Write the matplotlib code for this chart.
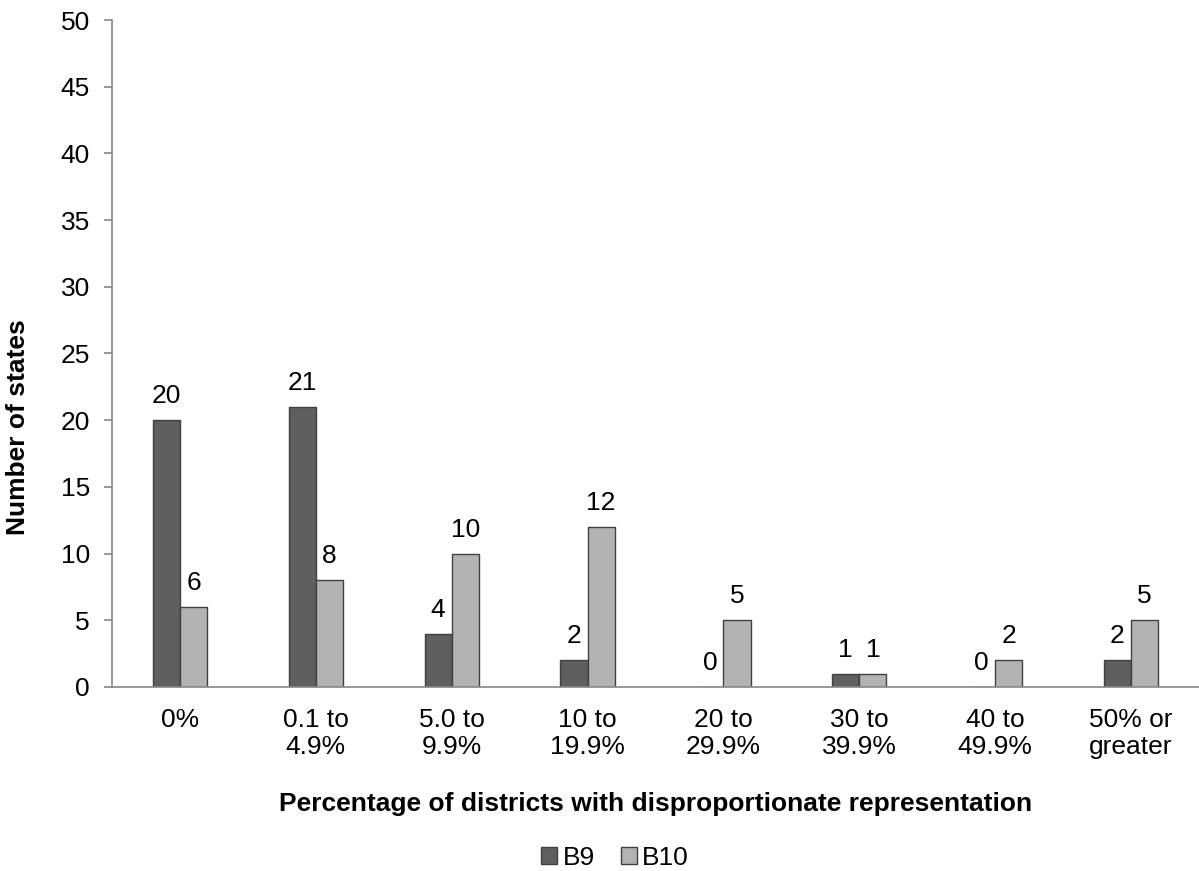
import matplotlib
matplotlib.use("Agg")
import matplotlib.pyplot as plt
import numpy as np

categories = ["0%", "0.1 to\n4.9%", "5.0 to\n9.9%", "10 to\n19.9%", "20 to\n29.9%",
              "30 to\n39.9%", "40 to\n49.9%", "50% or\ngreater"]
b9 = [20, 21, 4, 2, 0, 1, 0, 2]
b10 = [6, 8, 10, 12, 5, 1, 2, 5]
yticks = list(range(0, 51, 5))

plt.rcParams['font.family'] = ['Liberation Sans', 'DejaVu Sans']
FS = 19

fig = plt.figure(figsize=(11.99, 8.71), dpi=100)
ax = fig.add_axes([0.0934, 0.2113, 0.9066, 0.7657])

x = np.arange(len(categories))
w = 0.2
c9, c10 = "#5f5f5f", "#b3b3b3"
bars9 = ax.bar(x - w/2, b9, w, color=c9, edgecolor="#404040", linewidth=1, label="B9")
bars10 = ax.bar(x + w/2, b10, w, color=c10, edgecolor="#404040", linewidth=1, label="B10")

for bars, vals in ((bars9, b9), (bars10, b10)):
    for b, v in zip(bars, vals):
        ax.annotate(str(v), (b.get_x() + b.get_width()/2, v), xytext=(0, 8.5),
                    textcoords="offset points", ha="center", va="bottom", fontsize=FS)

ax.set_xlim(-0.5, len(categories) - 0.5)
ax.set_ylim(0, 50)
ax.set_yticks(yticks)
ax.set_xticks(x)
ax.set_xticklabels(categories, fontsize=FS, linespacing=1.15)
ax.tick_params(axis='y', labelsize=FS, length=6, color="#888888", width=1.2, pad=10)
ax.tick_params(axis='x', length=0, pad=15)
for s in ("top", "right"):
    ax.spines[s].set_visible(False)
for s in ("left", "bottom"):
    ax.spines[s].set_color("#888888")
    ax.spines[s].set_linewidth(1.2)

ax.set_ylabel("Number of states", fontsize=FS, fontweight="bold")
ax.yaxis.set_label_coords(-0.0865, 0.39)
ax.yaxis.label.set_va("center")
ax.set_xlabel("Percentage of districts with disproportionate representation",
              fontsize=FS, fontweight="bold")
ax.xaxis.set_label_coords(0.5, -0.157)
ax.xaxis.label.set_va("top")

fig.legend(handles=[bars9, bars10], labels=["B9", "B10"], loc="center",
           bbox_to_anchor=(0.513, 0.015), ncol=2, frameon=False, fontsize=FS,
           handlelength=0.6, handleheight=0.6, handletextpad=0.2, columnspacing=1.0)

fig.savefig("out.png", dpi=100)
